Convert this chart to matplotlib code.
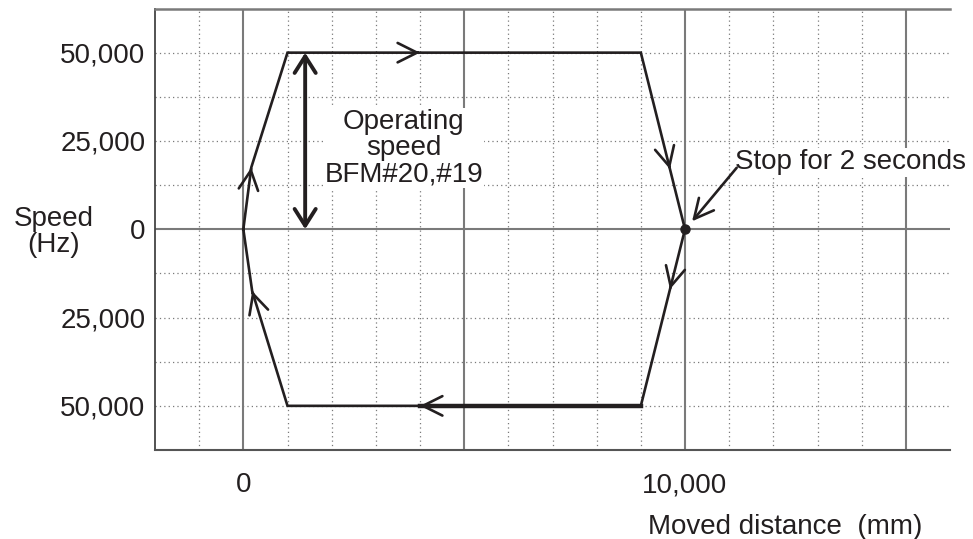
import numpy as np
import matplotlib
matplotlib.use('Agg')
import matplotlib.pyplot as plt

plt.rcParams['font.family'] = ['Liberation Sans', 'DejaVu Sans']

# path of the positioning move (distance mm, speed Hz)
path_x = [0, 180, 1000, 9000, 10000, 9000, 1000, 200, 0]
path_y = [0, 17500, 50000, 50000, 0, -50000, -50000, -17500, 0]

# direction arrows: tip point and the point it comes from
arrow_tips = [(180, 17500), (4000, 50000), (9660, 17000), (9660, -17000), (4000, -50000), (200, -17500)]
arrow_from = [(0, 0), (1000, 50000), (9000, 50000), (10000, 0), (9000, -50000), (1000, -50000)]

stop_point = (10000, 0)
speed_arrow_x = 1400
speed_value = 50000

yticks = [50000, 25000, 0, -25000, -50000]
ylabels = ['50,000', '25,000', '0', '25,000', '50,000']
xticks = [0, 10000]
xlabels = ['0', '10,000']

ink = '#231f20'
gridc = '#7a7a7a'

fig = plt.figure(figsize=(9.73, 5.39), dpi=100)
ax = fig.add_axes([155/973, 89/539, 795/973, 441.5/539])
ax.set_xlim(-2000, 16000)
ax.set_ylim(-62500, 62500)

# grid
for gx in range(-1000, 16000, 1000):
    if gx % 5000 == 0:
        ax.axvline(gx, color=gridc, lw=1.5, zorder=1)
    else:
        ax.axvline(gx, color=gridc, lw=0.9, ls=(0, (1, 2.5)), zorder=1)
for gy in np.arange(-50000, 62500, 12500):
    if gy == 0:
        ax.axhline(gy, color=gridc, lw=1.5, zorder=1)
    else:
        ax.axhline(gy, color=gridc, lw=0.9, ls=(0, (1, 2.5)), zorder=1)

ax.spines['right'].set_visible(False)
ax.spines['top'].set_color(gridc)
ax.spines['top'].set_linewidth(1.8)
ax.spines['left'].set_color('#444444')
ax.spines['bottom'].set_color('#555555')
ax.spines['left'].set_linewidth(1.3)
ax.spines['bottom'].set_linewidth(1.5)

ax.set_yticks(yticks)
ax.set_yticklabels(ylabels)
ax.set_xticks(xticks)
ax.set_xticklabels(xlabels)
ax.tick_params(axis='y', length=0, pad=7, labelsize=20, labelcolor=ink)
ax.tick_params(axis='x', length=0, pad=16, labelsize=20, labelcolor=ink)

# path
ax.plot(path_x, path_y, color=ink, lw=1.9, zorder=4, solid_joinstyle='miter')
ax.plot([arrow_tips[4][0], path_x[5]], [path_y[5], path_y[5]], color=ink, lw=3.2, zorder=4)

for (tx, ty), (fx, fy) in zip(arrow_tips, arrow_from):
    sx = tx - (tx - fx) * 0.02
    sy = ty - (ty - fy) * 0.02
    ax.annotate('', xy=(tx, ty), xytext=(sx, sy),
                arrowprops=dict(arrowstyle='->,head_length=0.7,head_width=0.35',
                                color=ink, lw=1.9, shrinkA=0, shrinkB=0,
                                mutation_scale=20), zorder=5)

# operating speed double arrow
ax.annotate('', xy=(speed_arrow_x, speed_value), xytext=(speed_arrow_x, 0),
            arrowprops=dict(arrowstyle='<->,head_length=0.6,head_width=0.38',
                            color=ink, lw=2.8, shrinkA=0, shrinkB=0,
                            mutation_scale=20), zorder=5)

ax.text(3630, 23000, 'Operating\nspeed\nBFM#20,#19', ha='center', va='center',
        fontsize=20, color=ink, linespacing=1.0, zorder=3,
        bbox=dict(facecolor='white', edgecolor='none', pad=1))

# stop point
ax.plot(*stop_point, 'o', color=ink, ms=6.5, zorder=6)
ax.text(13750, 19000, 'Stop for 2 seconds', ha='center', va='center',
        fontsize=20, color=ink, zorder=3,
        bbox=dict(facecolor='white', edgecolor='none', pad=1))
ax.annotate('', xy=(10160, 2250), xytext=(11170, 17400),
            arrowprops=dict(arrowstyle='->,head_length=0.7,head_width=0.35',
                            color=ink, lw=1.9, shrinkA=0, shrinkB=0,
                            mutation_scale=20), zorder=5)

fig.text(54/973, 1 - 232/539, 'Speed\n(Hz)', ha='center', va='center',
         fontsize=20, color=ink, linespacing=1.0)
fig.text(785/973, 1 - 527/539, 'Moved distance  (mm)', ha='center', va='center',
         fontsize=20, color=ink)

fig.savefig('out.png', dpi=100)
